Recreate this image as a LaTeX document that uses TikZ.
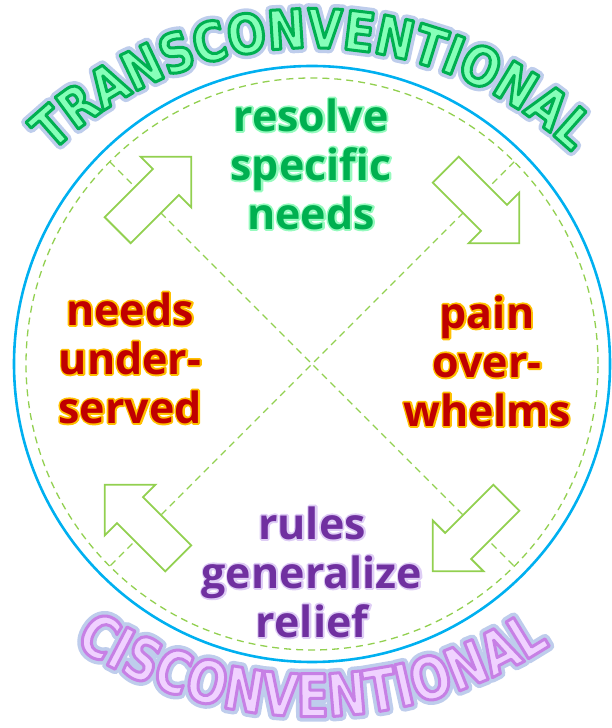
\documentclass[tikz,border=0pt]{standalone}
\usepackage{fontspec}
\usepackage{xcolor}
\usepackage{tikz}
\usetikzlibrary{shapes.arrows,decorations.text}
\newfontfamily\labelfont{Open Sans}
\newfontfamily\archtopfont{DejaVu Sans Bold}[FakeStretch=0.84]
\newfontfamily\archbotfont{DejaVu Sans Bold}[FakeStretch=0.80]
\definecolor{ringblue}{RGB}{0,176,240}
\definecolor{dashgreen}{RGB}{146,208,80}
\definecolor{haloblue}{RGB}{190,205,236}
\definecolor{transfill}{RGB}{135,255,185}
\definecolor{resolvefill}{RGB}{0,176,80}
\definecolor{resolveline}{RGB}{150,250,190}
\definecolor{needfill}{RGB}{192,0,0}
\definecolor{needline}{RGB}{255,192,0}
\definecolor{rulefill}{RGB}{112,48,160}
\definecolor{ruleline}{RGB}{222,205,245}
\definecolor{cisfill}{RGB}{240,210,255}
% pdf rgb triples for the letter outlines
\def\transRG{0 0.69 0.314}
\def\cisRG{0.78 0.5 0.9}
% outline under, fill on top
\newcommand\outlined[3]{\rlap{\color{#2}\special{pdf:literal direct 2 Tr 3.6 w 1 j}#3\special{pdf:literal direct 0 Tr}}{\color{#1}#3}}
\newcommand\greenword[1]{\outlined{resolvefill}{resolveline}{#1}}
\newcommand\redword[1]{\outlined{needfill}{needline}{#1}}
\newcommand\purpleword[1]{\outlined{rulefill}{ruleline}{#1}}

\begin{document}
\begin{tikzpicture}[x=1pt,y=1pt,
    ringnode/.style={circle,inner sep=0pt,outer sep=0pt},
    dashline/.style={dashgreen,line width=1.3pt,dash pattern=on 7pt off 5pt},
    cyclearrow/.style={single arrow,draw=dashgreen,fill=white,line width=1.8pt,
      minimum height=104pt,inner xsep=0pt,inner ysep=17.5pt,
      single arrow head extend=17.5pt,single arrow tip angle=90},
    cyclelabel/.style={align=center,font=\labelfont\bfseries\fontsize{43}{49}\selectfont},
    toptext/.style n args={2}{decorate,decoration={text along path,text align=center,
      text={|\archtopfont\fontsize{54}{54}\selectfont\color{#1}\special{pdf:literal direct #2}|TRANSCONVENTIONAL}}},
    bottext/.style n args={2}{decorate,decoration={text along path,text align=center,
      text={|\archbotfont\fontsize{59}{59}\selectfont\color{#1}\special{pdf:literal direct #2}|CISCONVENTIONAL}}}]
    \useasboundingbox (0,0) rectangle (612,728);
    
    % Rings
    \coordinate (c) at (312,364);
    \node[ringnode,draw=ringblue,line width=2.6pt,minimum size=596pt] (outer) at (c) {};
    \node[ringnode,dashline,draw=dashgreen,minimum size=572pt] (inner) at (c) {};
    
    % Diagonals
    \draw[dashline] (inner.135) -- (inner.-45);
    \draw[dashline] (inner.45) -- (inner.-135);
    
    % Arrows
    \foreach \ang/\nm in {135/up,45/right,-45/down,-135/left}
        \node[cyclearrow,rotate=\ang-90] (\nm arrow) at ([shift={(\ang:232)}]c) {};
    
    % Labels
    \node[cyclelabel] (resolve) at (311,564) {\greenword{resolve}\\\greenword{specific}\\\greenword{needs}};
    \node[cyclelabel] (needs) at (130,370) {\redword{needs}\\\redword{under-}\\\redword{served}};
    \node[cyclelabel] (pain) at (487,367) {\redword{pain}\\\redword{over-}\\\redword{whelms}};
    \node[cyclelabel] (rules) at (312,156) {\purpleword{rules}\\\purpleword{generalize}\\\purpleword{relief}};
    
    % Arc titles: glow, then outlined letters
    \foreach \col/\mode in {haloblue/{2 Tr 10 w 1 j},transfill/{2 Tr 3 w 1 j \transRG\space RG}}
        \path[toptext={\col}{\mode}] ([shift={(170:376)}]312,304) arc[start angle=170,end angle=10,radius=376];
    \foreach \col/\mode in {haloblue/{2 Tr 10 w 1 j},cisfill/{2 Tr 3 w 1 j \cisRG\space RG}}
        \path[bottext={\col}{\mode}] ([shift={(-157:433)}]312,444.4) arc[start angle=-157,end angle=-23,radius=433];
\end{tikzpicture}
\end{document}
